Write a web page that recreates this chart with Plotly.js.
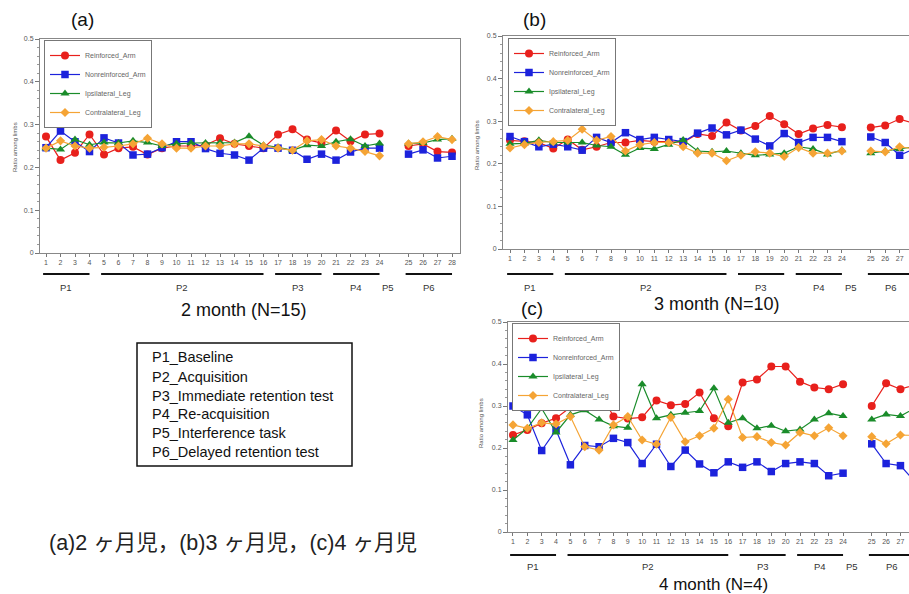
<!DOCTYPE html>
<html><head><meta charset="utf-8">
<script src="https://cdn.plot.ly/plotly-3.0.1.min.js"></script>
<style>html,body{margin:0;padding:0;overflow:hidden;background:#fff}#chart{width:1000px;height:594px}</style>
</head><body><div id="chart"></div>
<script>
// ---------------- data ----------------
const trialLabels = [1,2,3,4,5,6,7,8,9,10,11,12,13,14,15,16,17,18,19,20,21,22,23,24,25,26,27,28];
const seriesNames = ["Reinforced_Arm","Nonreinforced_Arm","Ipsilateral_Leg","Contralateral_Leg"];
const periodNames = ["P1","P2","P3","P4","P5","P6"];
const periodFirstTrial = [1,5,17,21,null,25];
const periodLastTrial  = [4,16,20,24,null,28];
const yTickVals = [0,0.1,0.2,0.3,0.4,0.5];
const yTickText = ["0","0.1","0.2","0.3","0.4","0.5"];
const periodDescriptions = ["P1_Baseline","P2_Acquisition","P3_Immediate retention test","P4_Re-acquisition","P5_Interference task","P6_Delayed retention test"];
const panelLabels = ["(a)","(b)","(c)"];
const panelTitles = ["2 month (N=15)","3 month (N=10)","4 month (N=4)"];
const caption = "(a)2 ヶ月児，(b)3 ヶ月児，(c)4 ヶ月児";
const yTitle = "Ratio among limbs";

const a_reinforced    = [0.272,0.217,0.234,0.277,0.230,0.245,0.248,0.230,0.245,0.250,0.250,0.252,0.268,0.255,0.250,0.245,0.277,0.289,0.265,0.257,0.286,0.261,0.277,0.279,0.250,0.255,0.237,0.235];
const a_nonreinforced = [0.246,0.285,0.260,0.237,0.269,0.257,0.229,0.231,0.246,0.260,0.260,0.244,0.233,0.229,0.217,0.245,0.245,0.240,0.219,0.231,0.217,0.236,0.245,0.245,0.231,0.241,0.222,0.226];
const a_ipsilateral   = [0.245,0.242,0.265,0.253,0.258,0.257,0.262,0.258,0.250,0.255,0.257,0.257,0.258,0.258,0.273,0.252,0.247,0.240,0.252,0.250,0.260,0.266,0.250,0.256,0.256,0.257,0.265,0.267];
const a_contralateral = [0.245,0.262,0.250,0.245,0.247,0.250,0.255,0.268,0.255,0.245,0.245,0.250,0.250,0.255,0.255,0.250,0.245,0.240,0.262,0.265,0.250,0.245,0.237,0.227,0.255,0.260,0.272,0.265];

const b_reinforced    = [0.255,0.253,0.250,0.236,0.257,0.233,0.240,0.250,0.250,0.255,0.252,0.252,0.250,0.270,0.265,0.297,0.278,0.289,0.312,0.293,0.270,0.283,0.291,0.286,0.285,0.290,0.305,0.295];
const b_nonreinforced = [0.264,0.252,0.240,0.246,0.240,0.232,0.262,0.250,0.273,0.257,0.262,0.257,0.252,0.272,0.284,0.268,0.279,0.258,0.242,0.271,0.250,0.262,0.262,0.252,0.263,0.250,0.220,0.235];
const b_ipsilateral   = [0.247,0.248,0.255,0.250,0.250,0.250,0.243,0.240,0.221,0.237,0.235,0.245,0.256,0.230,0.228,0.230,0.225,0.220,0.222,0.225,0.240,0.235,0.222,0.232,0.225,0.230,0.235,0.240];
const b_contralateral = [0.237,0.245,0.250,0.252,0.255,0.281,0.255,0.264,0.230,0.245,0.250,0.250,0.240,0.225,0.225,0.207,0.220,0.228,0.225,0.217,0.238,0.225,0.225,0.230,0.230,0.228,0.240,0.235];

const c_reinforced    = [0.231,0.243,0.259,0.271,0.297,0.310,0.338,0.275,0.270,0.273,0.313,0.302,0.305,0.332,0.271,0.252,0.356,0.363,0.394,0.394,0.358,0.344,0.340,0.352,0.300,0.354,0.340,0.350];
const c_nonreinforced = [0.300,0.279,0.194,0.243,0.160,0.206,0.203,0.223,0.213,0.163,0.209,0.156,0.195,0.162,0.141,0.167,0.154,0.167,0.144,0.163,0.167,0.163,0.134,0.140,0.210,0.163,0.158,0.120];
const c_ipsilateral   = [0.219,0.247,0.294,0.237,0.279,0.290,0.268,0.252,0.248,0.352,0.271,0.279,0.284,0.288,0.342,0.260,0.271,0.247,0.253,0.240,0.244,0.268,0.283,0.276,0.268,0.280,0.276,0.295];
const c_contralateral = [0.255,0.247,0.260,0.257,0.275,0.203,0.195,0.255,0.275,0.219,0.209,0.273,0.215,0.229,0.247,0.316,0.225,0.227,0.213,0.207,0.237,0.229,0.248,0.229,0.227,0.210,0.231,0.230];

// ---------------- layout helpers ----------------
const W = 1000, H = 594;
const px = x => x / W;
const py = y => 1 - y / H;
const GAP_AFTER = 24; // P5 slot sits after trial 24
const slotOf = t => t <= GAP_AFTER ? t : t + 1;
const P5_SLOT = GAP_AFTER + 1;

const colors = ["#e8201c", "#1c22dc", "#1a8c2a", "#f5a435"];
const symbols = ["circle", "square", "triangle-up", "diamond"];
const sizes = [8, 7.5, 8, 7];

const panels = [
  {data:[a_reinforced,a_nonreinforced,a_ipsilateral,a_contralateral], x:"x", y:"y", legend:"legend",
   dom:[40,460], ydom:[39,253], range:[0.586,29.55], lineY:274, labY:287, titleX:244, titleY:310, titleSize:18, labX:82, labPY:20, ytX:15, ytY:147},
  {data:[b_reinforced,b_nonreinforced,b_ipsilateral,b_contralateral], x:"x2", y:"y2", legend:"legend2",
   dom:[503,921], ydom:[36,249], range:[0.515,29.48], lineY:274, labY:287, titleX:717, titleY:304, titleSize:18, labX:534, labPY:20, ytX:477, ytY:145},
  {data:[c_reinforced,c_nonreinforced,c_ipsilateral,c_contralateral], x:"x3", y:"y3", legend:"legend3",
   dom:[508,928], ydom:[322,532], range:[0.652,29.92], lineY:555, labY:566, titleX:713, titleY:584, titleSize:17, labX:532, labPY:308, ytX:481, ytY:423}
];

const traces = [];
const shapes = [];
const annotations = [];
const layout = {
  width: W, height: H, margin:{l:0,r:0,t:0,b:0},
  paper_bgcolor:"#fff", plot_bgcolor:"#fff",
  font:{family:"Liberation Sans, Arial, sans-serif", color:"#333"},
  shapes, annotations
};

const legendPos = [[44,40],[508,38],[512,323]];

panels.forEach((p, pi) => {
  const tv = [], tt = [];
  trialLabels.forEach(t => { tv.push(slotOf(t)); tt.push(String(t)); });
  p.data.forEach((vals, si) => {
    const X = [], Y = [];
    trialLabels.forEach((t, i) => {
      if (t === GAP_AFTER + 1) { X.push(P5_SLOT); Y.push(null); }
      X.push(slotOf(t)); Y.push(vals[i]);
    });
    traces.push({
      type:"scatter", mode:"lines+markers", x:X, y:Y, xaxis:p.x, yaxis:p.y,
      name:seriesNames[si], legend:p.legend, connectgaps:false, cliponaxis:false,
      line:{color:colors[si], width:1.2},
      marker:{color:colors[si], symbol:symbols[si], size:sizes[si], line:{width:0}}
    });
  });
  const xn = pi === 0 ? "xaxis" : "xaxis" + (pi+1);
  const yn = pi === 0 ? "yaxis" : "yaxis" + (pi+1);
  layout[xn] = {
    domain:[px(p.dom[0]), px(p.dom[1])], anchor:p.y, range:p.range,
    tickvals:tv, ticktext:tt, ticks:"outside", ticklen:3, tickcolor:"#777",
    tickfont:{size:7, color:"#555"}, showgrid:false, zeroline:false,
    showline:true, linecolor:"#888", linewidth:1, mirror:true, fixedrange:true
  };
  layout[yn] = {
    domain:[py(p.ydom[1]), py(p.ydom[0])], anchor:p.x, range:[0,0.5],
    tickvals:yTickVals, ticktext:yTickText, ticks:"outside", ticklen:4, tickcolor:"#777",
    minor:{ticks:"outside", dtick:0.02, ticklen:2, tickcolor:"#999"},
    tickfont:{size:7, color:"#555"}, showgrid:false, zeroline:false,
    showline:true, linecolor:"#888", linewidth:1, mirror:true, fixedrange:true
  };
  layout[p.legend] = {
    x:px(legendPos[pi][0]), y:py(legendPos[pi][1]), xanchor:"left", yanchor:"top",
    bgcolor:"#fff", bordercolor:"#777", borderwidth:1,
    font:{size:7, color:"#666"}, tracegroupgap:0, itemwidth:30
  };
  // period bars and labels
  periodNames.forEach((nm, k) => {
    let center;
    if (periodFirstTrial[k] !== null) {
      const s0 = slotOf(periodFirstTrial[k]), s1 = slotOf(periodLastTrial[k]);
      shapes.push({type:"line", xref:p.x, yref:"paper", x0:s0-0.2, x1:s1, y0:py(p.lineY), y1:py(p.lineY),
        line:{color:"#111", width:1.8}});
      center = (s0 + s1) / 2 - 0.1;
    } else {
      center = P5_SLOT - 0.4;
    }
    annotations.push({xref:p.x, yref:"paper", x:center, y:py(p.labY), text:nm, showarrow:false,
      font:{size:9.5, color:"#333"}, xanchor:"center", yanchor:"middle", borderpad:0});
  });
  annotations.push({xref:"paper", yref:"paper", x:px(p.titleX), y:py(p.titleY), text:panelTitles[pi],
    showarrow:false, font:{size:p.titleSize, color:"#111"}, xanchor:"center", yanchor:"middle", borderpad:0});
  annotations.push({xref:"paper", yref:"paper", x:px(p.labX), y:py(p.labPY), text:panelLabels[pi],
    showarrow:false, font:{size:19, color:"#111"}, xanchor:"center", yanchor:"middle"});
  annotations.push({xref:"paper", yref:"paper", x:px(p.ytX), y:py(p.ytY), text:yTitle, textangle:-90,
    showarrow:false, font:{size:6, color:"#555"}, xanchor:"center", yanchor:"middle"});
});

// period description box
shapes.push({type:"rect", xref:"paper", yref:"paper", x0:px(137), x1:px(352), y0:py(343), y1:py(466),
  line:{color:"#111", width:1.5}, fillcolor:"rgba(0,0,0,0)"});
const descY = [357,377,396,414,433,452];
periodDescriptions.forEach((d, i) => {
  annotations.push({xref:"paper", yref:"paper", x:px(150), y:py(descY[i]), text:d, showarrow:false,
    font:{size:14.5, color:"#111"}, xanchor:"left", yanchor:"middle"});
});
annotations.push({xref:"paper", yref:"paper", x:px(47), y:py(543), text:caption, showarrow:false,
  font:{size:21.5, color:"#222", family:"Liberation Sans, Noto Sans CJK JP, sans-serif"}, xanchor:"left", yanchor:"middle"});

Plotly.newPlot("chart", traces, layout, {displayModeBar:false, staticPlot:true});
</script></body></html>
